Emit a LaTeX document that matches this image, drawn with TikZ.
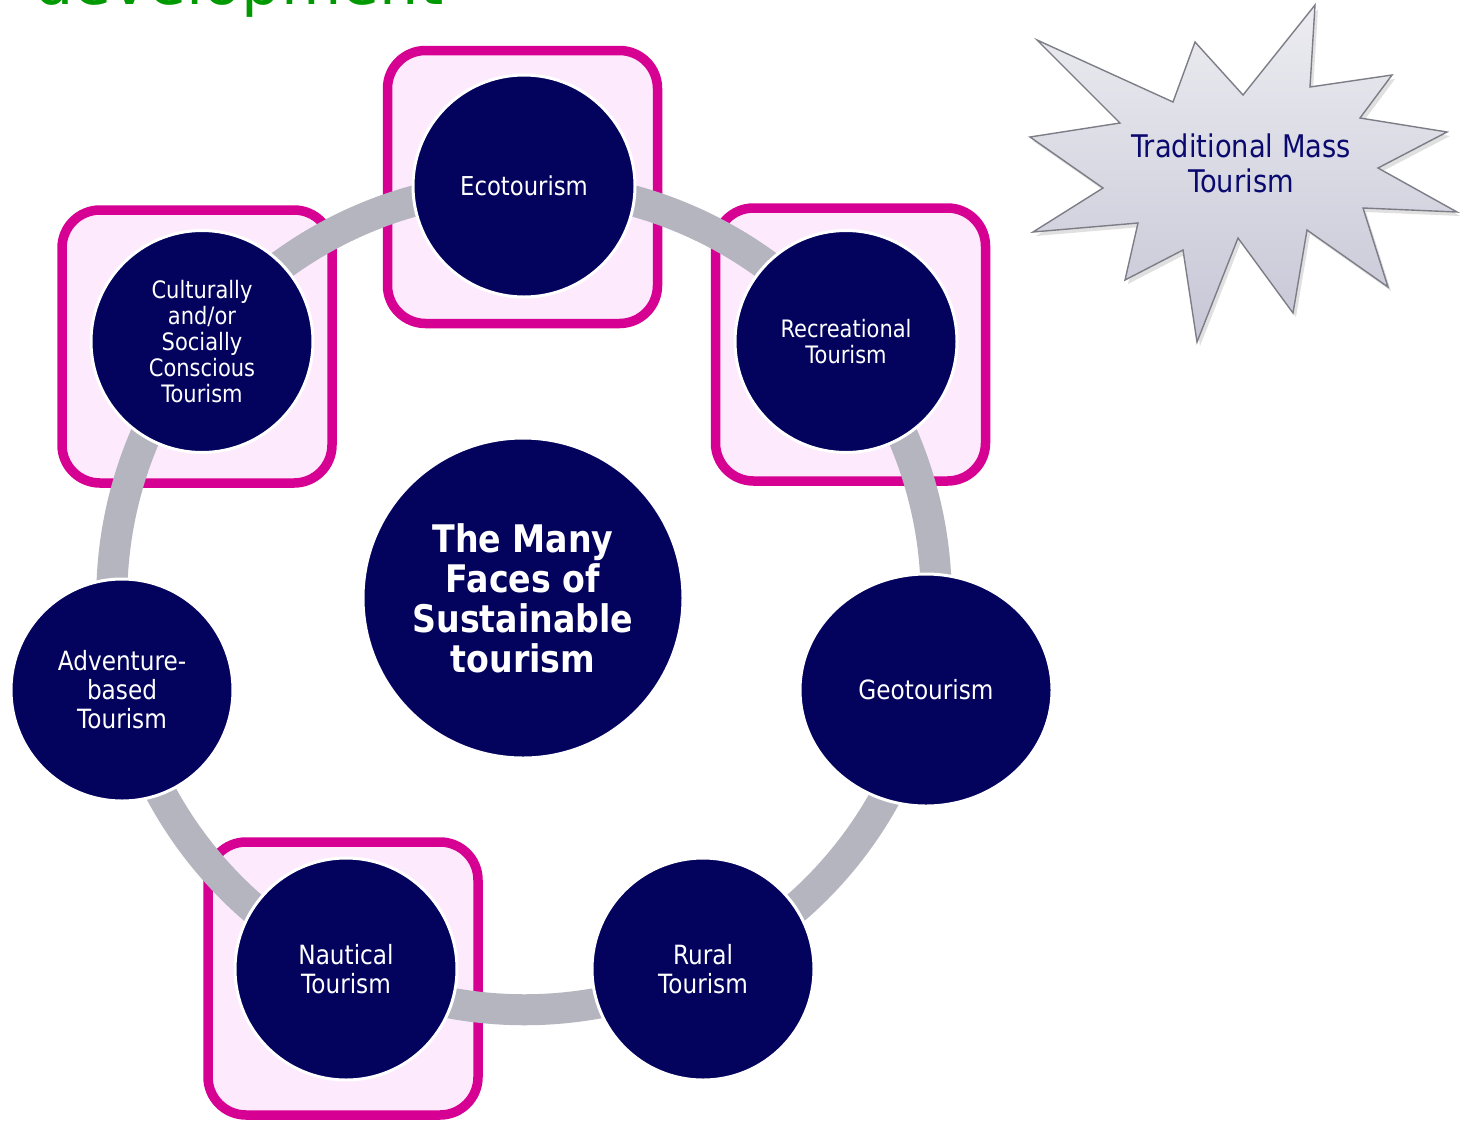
\documentclass[tikz,border=0pt]{standalone}
\usepackage{fontspec}
\usetikzlibrary{shapes.geometric}
\newfontfamily\tfont[FakeStretch=0.875]{DejaVu Sans}
\newfontfamily\gfont{DejaVu Sans}
\definecolor{navy}{RGB}{3,3,94}
\definecolor{ringgray}{RGB}{180,181,190}
\definecolor{hmag}{RGB}{214,0,146}
\definecolor{hpink}{RGB}{253,234,253}
\definecolor{startop}{RGB}{236,236,241}
\definecolor{starbot}{RGB}{198,198,214}
\definecolor{staredge}{RGB}{125,125,135}
\definecolor{starnavy}{RGB}{10,10,110}
\definecolor{tgreen}{RGB}{0,153,0}
\pgfdeclarelayer{bglayer}
\pgfdeclarelayer{boxlayer}
\pgfdeclarelayer{linklayer}
\pgfsetlayers{bglayer,boxlayer,linklayer,main}
\tikzset{
  hub/.style={circle, fill=navy, draw=white, line width=1.5pt, text=white,
    align=center, minimum size=111pt, inner sep=0pt},
  smalltxt/.style={font=\tfont\fontsize{12}{13}\selectfont},
  midtxt/.style={font=\tfont\fontsize{13.25}{14.5}\selectfont},
  ringlink/.style={draw=ringgray, line width=15.5pt, bend left=25.7, looseness=0.9},
  hbox/.style={rectangle, rounded corners=19pt, draw=hmag, fill=hpink,
    line width=4.75pt, minimum width=135pt, minimum height=136.5pt, inner sep=0pt},
  starshape/.style={draw=staredge, line width=0.7pt, top color=startop, bottom color=starbot},
}
\begin{document}
\begin{tikzpicture}[x=0.5pt,y=-0.5pt]
\useasboundingbox (0,0) rectangle (1467,1120);
\begin{pgfonlayer}{bglayer}
\fill[white] (0,0) rectangle (1467,1120);
\end{pgfonlayer}

% title fragment cut by the top edge
\begin{scope}
\clip (0,0) rectangle (1467,1120);
\node[anchor=base west, inner sep=0pt, text=tgreen,
  font=\gfont\fontsize{31}{31}\selectfont] (title) at (34,4) {development};
\end{scope}

% circles
\node[hub, font=\tfont\fontsize{13}{14}\selectfont] (eco) at (524,186) {Ecotourism};
\node[hub, smalltxt] (rec) at (846,341.5) {Recreational\\Tourism};
\node[ellipse, fill=navy, draw=white, line width=1.5pt, text=white, align=center,
  minimum width=126pt, minimum height=116pt, inner sep=0pt, midtxt] (geo) at (926,690) {Geotourism};
\node[hub, midtxt] (rural) at (703,969) {Rural\\Tourism};
\node[hub, midtxt] (naut) at (346,969) {Nautical\\Tourism};
\node[hub, midtxt] (adv) at (122,690) {Adventure-\\based\\Tourism};
\node[hub, smalltxt] (cult) at (202,341.5) {Culturally\\and/or\\Socially\\Conscious\\Tourism};
\node[hub, minimum size=160pt, font=\tfont\bfseries\fontsize{19}{20}\selectfont] (core) at (523,598)
  {The Many\\Faces of\\Sustainable\\tourism};

% ring connectors
\begin{pgfonlayer}{linklayer}
\draw[ringlink] (eco.center) to (rec.center);
\draw[ringlink] (rec.center) to (geo.center);
\draw[ringlink] (geo.center) to (rural.center);
\draw[ringlink] (rural.center) to (naut.center);
\draw[ringlink] (naut.center) to (adv.center);
\draw[ringlink] (adv.center) to (cult.center);
\draw[ringlink] (cult.center) to (eco.center);
\end{pgfonlayer}

% highlight boxes
\begin{pgfonlayer}{boxlayer}
\node[hbox] (ecobox) at (522.5,187) {};
\node[hbox] (recbox) at (850.5,344.5) {};
\node[hbox] (cultbox) at (197,346.5) {};
\node[hbox] (nautbox) at (343,978.5) {};
\end{pgfonlayer}

% starburst
\fill[black, opacity=0.12, xshift=1.5pt, yshift=-2pt] (1037,40) -- (1173,102) -- (1195,42) -- (1243,95) -- (1315,5) -- (1310,87) -- (1392,75) -- (1360,118) -- (1447,132) -- (1378,168) -- (1457,212) -- (1363,208) -- (1388,287) -- (1307,230) -- (1293,313) -- (1238,238) -- (1197,342) -- (1183,250) -- (1125,280) -- (1138,223) -- (1033,232) -- (1103,188) -- (1030,137) -- (1120,123) -- cycle;
\path[starshape] (1037,40) -- (1173,102) -- (1195,42) -- (1243,95) -- (1315,5) -- (1310,87) -- (1392,75) -- (1360,118) -- (1447,132) -- (1378,168) -- (1457,212) -- (1363,208) -- (1388,287) -- (1307,230) -- (1293,313) -- (1238,238) -- (1197,342) -- (1183,250) -- (1125,280) -- (1138,223) -- (1033,232) -- (1103,188) -- (1030,137) -- (1120,123) -- cycle;
\node[align=center, text=starnavy, inner sep=0pt, font=\tfont\fontsize{15.6}{17.5}\selectfont] (mass) at (1241,163.5) {Traditional Mass\\Tourism};
\end{tikzpicture}
\end{document}
